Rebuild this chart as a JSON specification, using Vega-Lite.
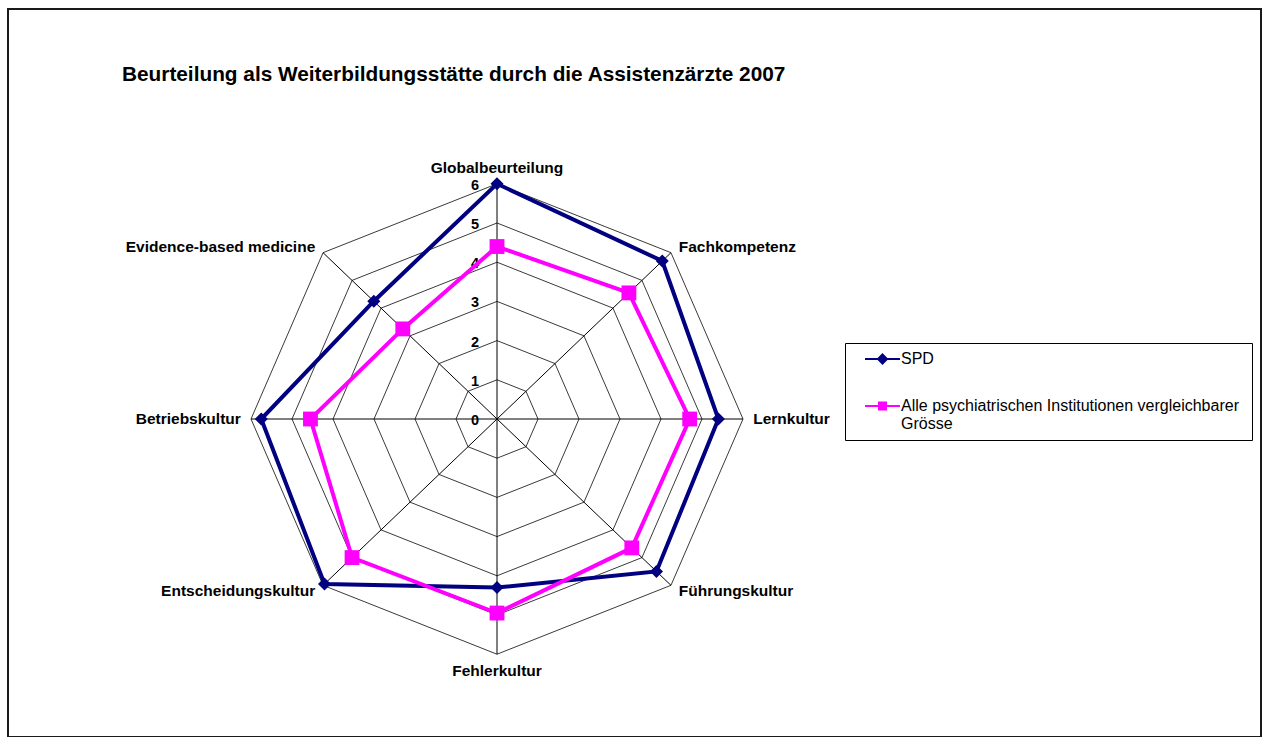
{
  "$schema": "https://vega.github.io/schema/vega-lite/v6.json",
  "width": 1253,
  "height": 728,
  "autosize": {"type": "none"},
  "padding": {"left": 8, "top": 9, "right": 5, "bottom": 0},
  "background": "white",
  "config": {"view": {"stroke": "#1a1a1a", "strokeWidth": 2}, "font": "Liberation Sans"},
  "title": {
    "text": "Beurteilung als Weiterbildungsstätte durch die Assistenzärzte 2007",
    "anchor": "start",
    "frame": "group",
    "font": "Liberation Sans",
    "fontSize": 20.8,
    "fontWeight": "bold",
    "color": "black",
    "offset": 0,
    "baseline": "alphabetic",
    "dx": 114,
    "dy": 93
  },
  "datasets": {
    "axes": [
      {"k": 0, "name": "Globalbeurteilung"},
      {"k": 1, "name": "Fachkompetenz"},
      {"k": 2, "name": "Lernkultur"},
      {"k": 3, "name": "Führungskultur"},
      {"k": 4, "name": "Fehlerkultur"},
      {"k": 5, "name": "Entscheidungskultur"},
      {"k": 6, "name": "Betriebskultur"},
      {"k": 7, "name": "Evidence-based medicine"}
    ],
    "grid": [
      {"k": 0, "levels": [1, 2, 3, 4, 5, 6]},
      {"k": 1, "levels": [1, 2, 3, 4, 5, 6]},
      {"k": 2, "levels": [1, 2, 3, 4, 5, 6]},
      {"k": 3, "levels": [1, 2, 3, 4, 5, 6]},
      {"k": 4, "levels": [1, 2, 3, 4, 5, 6]},
      {"k": 5, "levels": [1, 2, 3, 4, 5, 6]},
      {"k": 6, "levels": [1, 2, 3, 4, 5, 6]},
      {"k": 7, "levels": [1, 2, 3, 4, 5, 6]}
    ],
    "ticks": [{"t": 0}, {"t": 1}, {"t": 2}, {"t": 3}, {"t": 4}, {"t": 5}, {"t": 6}],
    "scores": [
      {"series": "SPD", "k": 0, "category": "Globalbeurteilung", "value": 6.0},
      {"series": "SPD", "k": 1, "category": "Fachkompetenz", "value": 5.7},
      {"series": "SPD", "k": 2, "category": "Lernkultur", "value": 5.4},
      {"series": "SPD", "k": 3, "category": "Führungskultur", "value": 5.5},
      {"series": "SPD", "k": 4, "category": "Fehlerkultur", "value": 4.3},
      {"series": "SPD", "k": 5, "category": "Entscheidungskultur", "value": 5.95},
      {"series": "SPD", "k": 6, "category": "Betriebskultur", "value": 5.75},
      {"series": "SPD", "k": 7, "category": "Evidence-based medicine", "value": 4.25},
      {"series": "Alle psychiatrischen  Institutionen vergleichbarer Grösse", "k": 0, "category": "Globalbeurteilung", "value": 4.4},
      {"series": "Alle psychiatrischen  Institutionen vergleichbarer Grösse", "k": 1, "category": "Fachkompetenz", "value": 4.55},
      {"series": "Alle psychiatrischen  Institutionen vergleichbarer Grösse", "k": 2, "category": "Lernkultur", "value": 4.7},
      {"series": "Alle psychiatrischen  Institutionen vergleichbarer Grösse", "k": 3, "category": "Führungskultur", "value": 4.65},
      {"series": "Alle psychiatrischen  Institutionen vergleichbarer Grösse", "k": 4, "category": "Fehlerkultur", "value": 4.95},
      {"series": "Alle psychiatrischen  Institutionen vergleichbarer Grösse", "k": 5, "category": "Entscheidungskultur", "value": 5.0},
      {"series": "Alle psychiatrischen  Institutionen vergleichbarer Grösse", "k": 6, "category": "Betriebskultur", "value": 4.55},
      {"series": "Alle psychiatrischen  Institutionen vergleichbarer Grösse", "k": 7, "category": "Evidence-based medicine", "value": 3.25}
    ]
  },
  "layer": [
    {
      "data": {"name": "grid"},
      "transform": [
        {"flatten": ["levels"], "as": ["level"]},
        {"calculate": "datum.level * sin(datum.k * PI / 4)", "as": "px"},
        {"calculate": "datum.level * cos(datum.k * PI / 4)", "as": "py"}
      ],
      "mark": {"type": "line", "interpolate": "linear-closed", "color": "#3a3a3a", "strokeWidth": 1},
      "encoding": {
        "x": {"field": "px", "type": "quantitative", "scale": {"domain": [-11.927, 18.634], "nice": false, "zero": false}, "axis": null},
        "y": {"field": "py", "type": "quantitative", "scale": {"domain": [-8.112, 10.459], "nice": false, "zero": false}, "axis": null},
        "detail": {"field": "level", "type": "nominal"},
        "order": {"field": "k", "type": "quantitative"}
      }
    },
    {
      "data": {"name": "axes"},
      "transform": [
        {"calculate": "6 * sin(datum.k * PI / 4)", "as": "px"},
        {"calculate": "6 * cos(datum.k * PI / 4)", "as": "py"}
      ],
      "mark": {"type": "rule", "color": "black", "strokeWidth": 1},
      "encoding": {
        "x": {"field": "px", "type": "quantitative"},
        "y": {"field": "py", "type": "quantitative"},
        "x2": {"datum": 0},
        "y2": {"datum": 0}
      }
    },
    {
      "data": {"name": "ticks"},
      "mark": {"type": "text", "font": "Liberation Sans", "fontSize": 14.5, "fontWeight": "bold", "color": "black", "align": "center", "baseline": "middle", "dx": -22, "dy": 2},
      "encoding": {
        "x": {"datum": 0},
        "y": {"field": "t", "type": "quantitative"},
        "text": {"field": "t", "type": "quantitative"}
      }
    },
    {
      "data": {"name": "scores"},
      "transform": [
        {"calculate": "datum.value * sin(datum.k * PI / 4)", "as": "px"},
        {"calculate": "datum.value * cos(datum.k * PI / 4)", "as": "py"}
      ],
      "mark": {"type": "line", "interpolate": "linear-closed", "strokeWidth": 4},
      "encoding": {
        "x": {"field": "px", "type": "quantitative"},
        "y": {"field": "py", "type": "quantitative"},
        "order": {"field": "k", "type": "quantitative"},
        "color": {
          "field": "series",
          "type": "nominal",
          "sort": ["SPD", "Alle psychiatrischen  Institutionen vergleichbarer Grösse"],
          "scale": {"domain": ["SPD", "Alle psychiatrischen  Institutionen vergleichbarer Grösse"], "range": ["#000080", "#FF00FF"]},
          "legend": {
            "orient": "none",
            "legendX": 837,
            "legendY": 334,
            "title": null,
            "padding": 8,
            "symbolSize": 100,
            "labelOffset": 32,
            "rowPadding": 30,
            "labelFont": "Liberation Sans",
            "labelFontSize": 16,
            "labelColor": "black",
            "labelLimit": 600,
            "fillColor": "white",
            "strokeColor": "black",
            "cornerRadius": 0,
            "labelExpr": "datum.label == 'SPD' ? 'SPD' : ['Alle psychiatrischen  Institutionen vergleichbarer', 'Grösse']",
            "encode": {
              "symbols": {
                "update": {
                  "shape": {"signal": "datum.value == 'SPD' ? 'M0.8,0H7.8M4.3,-0.9L5.2,0L4.3,0.9L3.4,0Z' : 'M0.8,0H7.8M3.6,-0.7H5V0.7H3.6Z'"},
                  "fill": {"signal": "datum.value == 'SPD' ? '#000080' : '#FF00FF'"},
                  "stroke": {"signal": "datum.value == 'SPD' ? '#000080' : '#FF00FF'"},
                  "strokeWidth": {"value": 2},
                  "opacity": {"value": 1}
                }
              }
            }
          }
        }
      }
    },
    {
      "data": {"name": "scores"},
      "transform": [
        {"filter": "datum.series == 'SPD'"},
        {"calculate": "datum.value * sin(datum.k * PI / 4)", "as": "px"},
        {"calculate": "datum.value * cos(datum.k * PI / 4)", "as": "py"}
      ],
      "mark": {"type": "point", "filled": true, "opacity": 1, "shape": "diamond", "size": 170},
      "encoding": {
        "x": {"field": "px", "type": "quantitative"},
        "y": {"field": "py", "type": "quantitative"},
        "color": {"field": "series", "type": "nominal"}
      }
    },
    {
      "data": {"name": "scores"},
      "transform": [
        {"filter": "datum.series != 'SPD'"},
        {"calculate": "datum.value * sin(datum.k * PI / 4)", "as": "px"},
        {"calculate": "datum.value * cos(datum.k * PI / 4)", "as": "py"}
      ],
      "mark": {"type": "point", "filled": true, "opacity": 1, "shape": "square", "size": 220},
      "encoding": {
        "x": {"field": "px", "type": "quantitative"},
        "y": {"field": "py", "type": "quantitative"},
        "color": {"field": "series", "type": "nominal"}
      }
    },
    {
      "data": {"name": "axes"},
      "transform": [
        {"filter": "datum.k == 0"},
        {"calculate": "6.2 * sin(datum.k * PI / 4)", "as": "px"},
        {"calculate": "6.2 * cos(datum.k * PI / 4)", "as": "py"}
      ],
      "mark": {"type": "text", "font": "Liberation Sans", "fontSize": 15.5, "fontWeight": "bold", "color": "black", "align": "center", "baseline": "middle", "dy": -8},
      "encoding": {
        "x": {"field": "px", "type": "quantitative"},
        "y": {"field": "py", "type": "quantitative"},
        "text": {"field": "name", "type": "nominal"}
      }
    },
    {
      "data": {"name": "axes"},
      "transform": [
        {"filter": "datum.k == 4"},
        {"calculate": "6.2 * sin(datum.k * PI / 4)", "as": "px"},
        {"calculate": "6.2 * cos(datum.k * PI / 4)", "as": "py"}
      ],
      "mark": {"type": "text", "font": "Liberation Sans", "fontSize": 15.5, "fontWeight": "bold", "color": "black", "align": "center", "baseline": "middle", "dy": 9},
      "encoding": {
        "x": {"field": "px", "type": "quantitative"},
        "y": {"field": "py", "type": "quantitative"},
        "text": {"field": "name", "type": "nominal"}
      }
    },
    {
      "data": {"name": "axes"},
      "transform": [
        {"filter": "datum.k >= 1 && datum.k <= 3"},
        {"calculate": "6.2 * sin(datum.k * PI / 4)", "as": "px"},
        {"calculate": "6.2 * cos(datum.k * PI / 4)", "as": "py"}
      ],
      "mark": {"type": "text", "font": "Liberation Sans", "fontSize": 15.5, "fontWeight": "bold", "color": "black", "align": "left", "baseline": "middle", "dx": 2},
      "encoding": {
        "x": {"field": "px", "type": "quantitative"},
        "y": {"field": "py", "type": "quantitative"},
        "text": {"field": "name", "type": "nominal"}
      }
    },
    {
      "data": {"name": "axes"},
      "transform": [
        {"filter": "datum.k >= 5"},
        {"calculate": "6.2 * sin(datum.k * PI / 4)", "as": "px"},
        {"calculate": "6.2 * cos(datum.k * PI / 4)", "as": "py"}
      ],
      "mark": {"type": "text", "font": "Liberation Sans", "fontSize": 15.5, "fontWeight": "bold", "color": "black", "align": "right", "baseline": "middle", "dx": -2},
      "encoding": {
        "x": {"field": "px", "type": "quantitative"},
        "y": {"field": "py", "type": "quantitative"},
        "text": {"field": "name", "type": "nominal"}
      }
    }
  ]
}
